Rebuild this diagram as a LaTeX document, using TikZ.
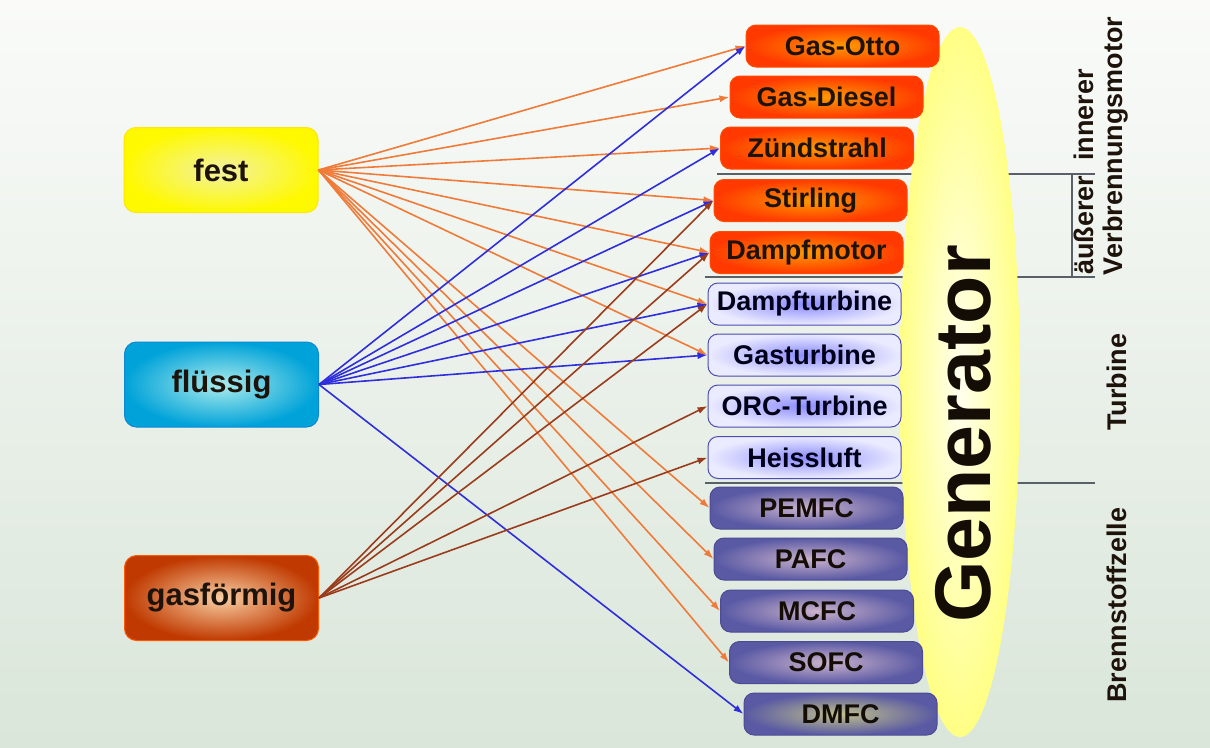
\documentclass[tikz,border=0pt]{standalone}
\usepackage{fontspec}
\setmainfont{Liberation Sans}
\usetikzlibrary{arrows.meta,shapes.geometric}
\definecolor{bgtop}{HTML}{FAFBF9}
\definecolor{bgbot}{HTML}{DAE6DA}
\definecolor{arO}{HTML}{F07A38}
\definecolor{arB}{HTML}{2E2EDC}
\definecolor{arR}{HTML}{9A3C1C}
\definecolor{sepc}{HTML}{5A6068}
\begin{document}
\begin{tikzpicture}[x=1pt,y=-1pt,
  fuel/.style={rectangle, rounded corners=12pt, minimum width=194pt, minimum height=85pt, inner sep=0pt,
    font=\fontsize{31}{34}\selectfont\bfseries, text=black!85!brown, line width=1pt},
  mbox/.style={rectangle, rounded corners=10pt, minimum width=193pt, minimum height=42pt, inner sep=0pt,
    font=\fontsize{27}{30}\selectfont\bfseries, line width=1pt},
  obox/.style={mbox, draw=orange!60!red, inner color=orange!80!yellow, outer color=red!55!orange, text=black!85!brown},
  tbox/.style={mbox, draw=blue!40!gray, inner color=blue!45!white, outer color=blue!8!white, text=black!90!blue},
  fcbox/.style={mbox, draw=blue!40!black!70!white, inner color=violet!25!white!80!gray, outer color=blue!45!black!65!white, text=black!90!brown},
  arrO/.style={draw=arO, line width=1.6pt, -{Latex[length=10pt,width=7pt]}},
  arrB/.style={draw=arB, line width=1.6pt, -{Latex[length=10pt,width=7pt]}},
  arrR/.style={draw=arR, line width=1.6pt, -{Latex[length=10pt,width=7pt]}},
  sep/.style={draw=sepc, line width=2pt},
  vlab/.style={rotate=90, font=\fontsize{27}{30}\selectfont\bfseries, text=black!85!brown, inner sep=0pt}]
\useasboundingbox (0,0) rectangle (1210,747);
\shade[top color=bgtop, bottom color=bgbot] (0,0) rectangle (1210,747);

% separator lines (behind generator)
\draw[sep] (717,174) -- (1095,174);
\draw[sep] (705,277) -- (1095,277);
\draw[sep] (705,483) -- (1095,483);
\draw[sep] (1072,174) -- (1072,277);

% generator
\shade[inner color=yellow!6!white, outer color=yellow!48!white] (960,382) ellipse [x radius=60pt, y radius=355pt];
\node[rotate=90, font=\fontsize{79}{82}\selectfont\bfseries, text=black!90!brown] (gen) at (963,434) {Generator};

% left fuel boxes
\node[fuel, draw=yellow!90!orange, inner color=yellow!35!white!90!gray, outer color=yellow!95!orange] (fest) at (221,170) {fest};
\node[fuel, draw=cyan!70!blue, inner color=cyan!30!white!85!gray, outer color=cyan!75!blue!85!black] (fluessig) at (221.5,384.5) {flüssig};
\node[fuel, draw=orange!70!red, inner color=orange!35!white!95!gray, outer color=orange!60!red!75!black] (gas) at (221.5,598) {gasförmig};

% right boxes
\node[obox] (otto) at (842.5,46) {Gas-Otto};
\node[obox] (diesel) at (826.5,97) {Gas-Diesel};
\node[obox] (zuend) at (817,148) {Zündstrahl};
\node[obox] (stirling) at (810.5,200.5) {Stirling};
\node[obox] (dmotor) at (806.5,252.5) {Dampfmotor};
\node[tbox] (dturb) at (804.5,304) {Dampfturbine};
\node[tbox] (gturb) at (804.5,355) {Gasturbine};
\node[tbox] (orc) at (804.5,406) {ORC-Turbine};
\node[tbox] (heiss) at (804.5,457.5) {Heissluft};
\node[fcbox] (pemfc) at (806.5,508) {PEMFC};
\node[fcbox] (pafc) at (810.5,559) {PAFC};
\node[fcbox] (mcfc) at (817,611) {MCFC};
\node[fcbox] (sofc) at (826,662.5) {SOFC};
\node[fcbox, inner color=yellow!30!gray!70!white] (dmfc) at (840.5,714) {DMFC};

% arrows from fest
\foreach \t in {otto,diesel,zuend,stirling,dmotor,dturb,gturb,pemfc,pafc,mcfc,sofc}
  \draw[arrO] (fest.east) -- (\t.west);
% arrows from fluessig
\foreach \t in {otto,zuend,stirling,dmotor,dturb,gturb,dmfc}
  \draw[arrB] (fluessig.east) -- (\t.west);
% arrows from gas
\foreach \t in {stirling,dmotor,dturb,orc,heiss}
  \draw[arrR] (gas.east) -- (\t.west);

% right labels
\node[vlab] (aeuss) at (1084,172) {äußerer\ \ innerer};
\node[vlab] (verb) at (1116,146) {Verbrennungsmotor};
\node[vlab] (turb) at (1117,382) {Turbine};
\node[vlab] (bz) at (1117,605) {Brennstoffzelle};
\end{tikzpicture}
\end{document}
